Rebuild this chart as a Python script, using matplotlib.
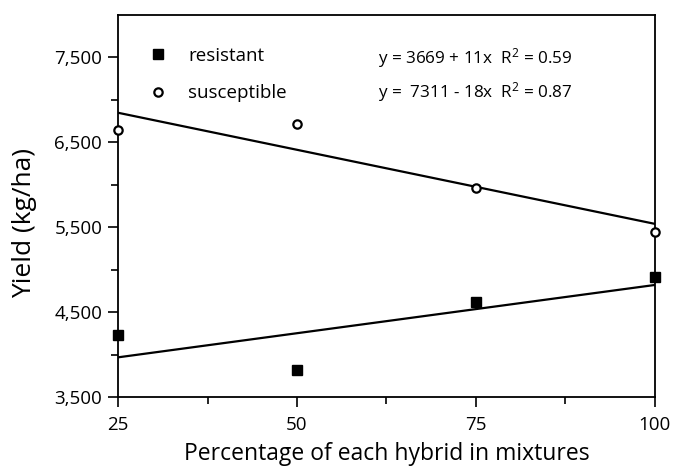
import numpy as np
import matplotlib
matplotlib.use("Agg")
import matplotlib.pyplot as plt

plt.rcParams['font.family'] = ['Open Sans', 'DejaVu Sans']
plt.rcParams['mathtext.default'] = 'regular'

# percentage of each hybrid in the mixture
pct = [25, 50, 75, 100]
# yield (kg/ha)
resistant = [4230, 3820, 4620, 4910]
susceptible = [6650, 6720, 5960, 5450]

eq_resistant = "y = 3669 + 11x  R$^{2}$ = 0.59"
eq_susceptible = "y =  7311 - 18x  R$^{2}$ = 0.87"

fig = plt.figure(figsize=(6.75, 4.7), dpi=100)
ax = fig.add_axes([0.175, 0.155, 0.795, 0.813])

# regression lines
xs = np.array([25, 100])
for ys in (resistant, susceptible):
    b, a = np.polyfit(pct, ys, 1)
    ax.plot(xs, a + b * xs, color='black', lw=1.6, zorder=2)

ax.plot(pct, resistant, 's', color='black', ms=6.5, label='resistant',
        clip_on=False, zorder=3)
ax.plot(pct, susceptible, 'o', mfc='white', mec='black', mew=1.6, ms=6,
        label='susceptible', clip_on=False, zorder=3)

ax.set_xlim(25, 100)
ax.set_ylim(3500, 8000)
ax.set_xticks([25, 50, 75, 100])
ax.set_xticks([37.5, 62.5, 87.5], minor=True)
ax.set_yticks([3500, 4500, 5500, 6500, 7500])
ax.set_yticklabels(['3,500', '4,500', '5,500', '6,500', '7,500'])
ax.set_yticks([4000, 5000, 6000, 7000], minor=True)
ax.tick_params(which='major', direction='out', length=7.5, width=1.2,
               labelsize=13.5, pad=4)
ax.tick_params(which='minor', direction='out', length=5, width=1.2)
ax.tick_params(axis='x', pad=6)
for s in ax.spines.values():
    s.set_linewidth(1.3)

ax.set_xlabel('Percentage of each hybrid in mixtures', fontsize=16.5, labelpad=6)
ax.set_ylabel('Yield (kg/ha)', fontsize=19)
ax.yaxis.set_label_coords(-0.152, 0.455)

ax.legend(loc='upper left', bbox_to_anchor=(0.057, 0.917), frameon=False,
          fontsize=13.5, handletextpad=1.1, labelspacing=1.05,
          handlelength=1.0, borderaxespad=0, borderpad=0)

ax.text(0.485, 0.887, eq_resistant, transform=ax.transAxes, fontsize=12.3,
        va='center')
ax.text(0.485, 0.798, eq_susceptible, transform=ax.transAxes, fontsize=12.3,
        va='center')

fig.savefig('out.png', dpi=100)
